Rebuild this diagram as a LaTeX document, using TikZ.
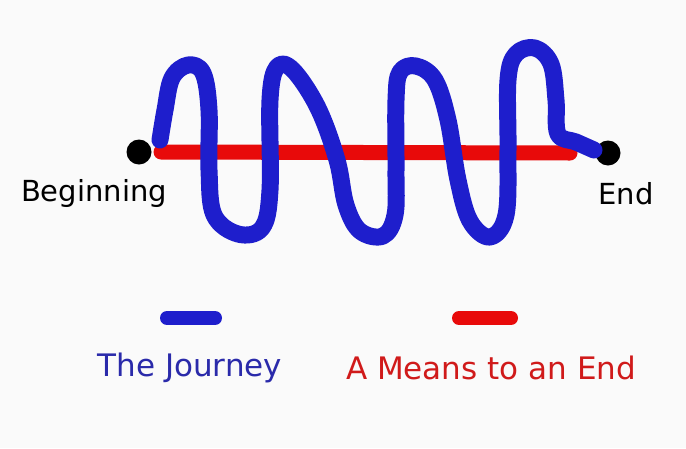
\documentclass[tikz,border=0pt]{standalone}
\usepackage{fontspec}
\setmainfont{DejaVu Sans}
\definecolor{paper}{HTML}{FAFAFA}
\definecolor{pathblue}{HTML}{1E1ECC}
\definecolor{pathred}{HTML}{E80A0A}
\definecolor{txtblue}{HTML}{2A2AAA}
\definecolor{txtred}{HTML}{D01A1A}
\usetikzlibrary{positioning,calc}
\tikzset{
  journey/.style={draw=pathblue,line width=17pt,line cap=round,line join=round},
  means/.style={draw=pathred,line width=15pt,line cap=round},
  enddot/.style={circle,fill=black,minimum size=25pt,inner sep=0pt},
  endlabel/.style={font=\fontsize{29}{33}\selectfont,text=black,inner sep=0pt},
  legendlabel/.style={font=\fontsize{31}{37}\selectfont,inner sep=0pt},
}

\begin{document}
\begin{tikzpicture}[x=1pt,y=-1pt]
  \fill[paper] (0,0) rectangle (686,448);
  \useasboundingbox (0,0) rectangle (686,448);

  \node[enddot] (begin) at (139,152) {};
  \node[enddot] (end) at (608,153) {};
  \node[endlabel] (beginlbl) at (94,193) {Beginning};
  \node[endlabel] (endlbl) at (626,194) {End};

  % the straight way
  \draw[means] ([xshift=22pt]begin.center) -- ([xshift=-38pt]end.center);

  % the long way round
  \draw[journey] plot[smooth,tension=0.6] coordinates {
    (160,140) (165,110) (172,78) (188,65) (203,73) (209,110) (209,170)
    (214,215) (238,234) (262,228) (270,190) (270,100) (277,67) (293,70)
    (318,108) (337,160) (346,205) (360,231) (383,236) (395,215) (396,170)
    (396,100) (400,72) (416,66) (435,80) (448,120) (458,180) (470,221)
    (490,237) (506,215) (508,150) (508,80) (516,54) (535,48) (551,64)
    (556,100) (558,134) (576,142) (594,150)};

  % legend
  \node[legendlabel,text=txtblue] (journeylbl) at (190,368) {The Journey};
  \node[legendlabel,text=txtred] (meanslbl) at (491,368) {A Means to an End};
  \coordinate (jl) at (167,318);
  \coordinate (jr) at (215,318);
  \coordinate (ml) at (459,318);
  \coordinate (mr) at (511,318);
  \draw[journey,line width=14pt] (jl) -- (jr);
  \draw[means,line width=14pt] (ml) -- (mr);
\end{tikzpicture}
\end{document}
